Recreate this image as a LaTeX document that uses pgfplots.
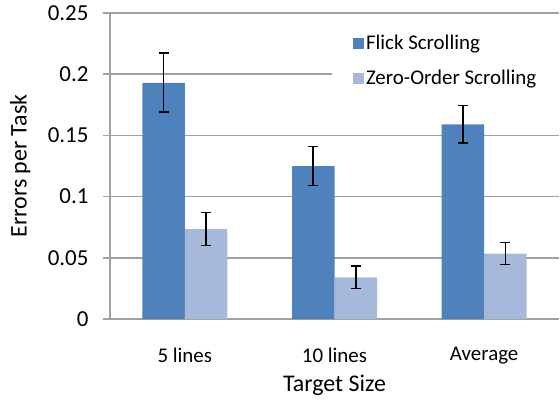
\documentclass[border=0pt]{standalone}
\usepackage{pgfplots}
\pgfplotsset{compat=1.18}
\usepackage{fontspec}
\setmainfont{Carlito}
\definecolor{flick}{RGB}{79,129,189}
\definecolor{zero}{RGB}{166,185,219}
\definecolor{gridgray}{RGB}{160,160,160}
\begin{document}
\begin{tikzpicture}
\begin{axis}[
  name=ax,
  scale only axis,
  width=449bp, height=306bp,
  xmin=-0.5, xmax=2.5,
  ymin=0, ymax=0.25,
  axis x line=bottom, axis y line=left,
  axis line style={gridgray, line width=1.6bp, -},
  ytick={0,0.05,0.1,0.15,0.2,0.25},
  yticklabels={0,0.05,0.1,0.15,0.2,0.25},
  ymajorgrids,
  grid style={gridgray, line width=1.6bp},
  tick align=outside,
  major tick length=7bp,
  tick style={gridgray, line width=1.6bp},
  xtick={0,1,2},
  xticklabels={5 lines,10 lines,Average},
  x tick style={draw=none},
  extra x ticks={-0.5,0.5,1.5,2.5},
  extra x tick labels={},
  extra x tick style={tick style={gridgray, line width=1.6bp}, major tick length=7bp},
  /pgf/number format/assume math mode=true,
  xticklabel style={font=\fontsize{21}{25}\selectfont, yshift=-18bp},
  yticklabel style={font=\fontsize{23}{27}\selectfont, xshift=-11bp},
  xlabel={Target Size},
  ylabel={Errors per Task},
  label style={font=\fontsize{24}{28}\selectfont},
  xlabel style={at={(axis description cs:0.5,-0.216)}, anchor=center},
  ylabel style={at={(axis description cs:-0.2,0.5)}, anchor=center, rotate=0},
  ybar,
  bar width=42.5bp,
  legend style={at={(axis description cs:0.494,0.96)}, anchor=north west,
    draw=none, fill=white, font=\fontsize{21}{25}\selectfont,
    row sep=15bp, inner xsep=21bp, inner ysep=8bp, cells={anchor=west}},
  legend image code/.code={\fill[#1] (0bp,-5.5bp) rectangle (11bp,5.5bp);},
  clip=false,
]
\addplot[fill=flick, draw=none, bar shift=-21.25bp,
  error bars/.cd, y dir=both, y explicit,
  error bar style={black, line width=1.8bp},
  error mark options={rotate=90, mark size=5bp, line width=1.8bp, black}]
  coordinates {(0,0.193) +- (0,0.024) (1,0.125) +- (0,0.016) (2,0.159) +- (0,0.0155)};
\addplot[fill=zero, draw=none, bar shift=21.25bp,
  error bars/.cd, y dir=both, y explicit,
  error bar style={black, line width=1.8bp},
  error mark options={rotate=90, mark size=5bp, line width=1.8bp, black}]
  coordinates {(0,0.0735) +- (0,0.0135) (1,0.034) +- (0,0.009) (2,0.0535) +- (0,0.009)};
\legend{Flick Scrolling, Zero-Order Scrolling}
\end{axis}
\pgfresetboundingbox
\path (ax.south west) ++(-110bp,-83bp) rectangle ++(560bp,402bp);
\end{tikzpicture}
\end{document}
